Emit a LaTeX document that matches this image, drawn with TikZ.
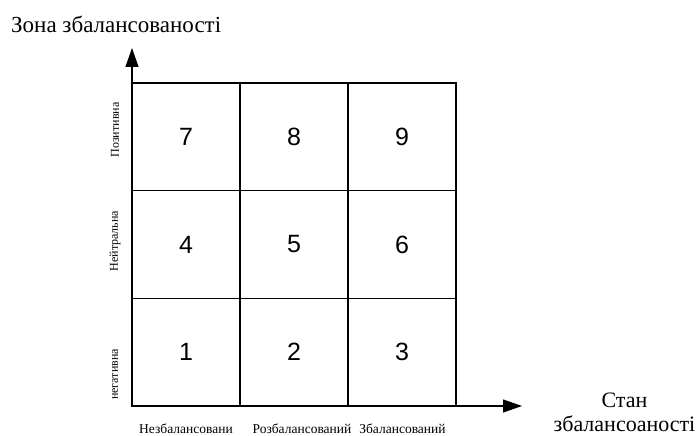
\documentclass[tikz,border=0pt]{standalone}
\usepackage{fontspec}
\setmainfont{Liberation Serif}
\newfontfamily\digitfont{Liberation Sans}
\usetikzlibrary{arrows.meta}
\tikzset{
  cell/.style={draw=black, line width=1.1pt, minimum width=108pt, minimum height=107.67pt, inner sep=0pt, font=\digitfont\fontsize{25}{25}\selectfont},
  axis/.style={line width=1.1pt, -{Triangle[length=19pt,width=13pt]}},
  ylab/.style={rotate=90, font=\fontsize{12}{12}\selectfont, inner sep=0pt},
  xlab/.style={font=\fontsize{13.5}{13.5}\selectfont, inner sep=0pt, anchor=base},
}
\begin{document}
\begin{tikzpicture}[x=1pt,y=-1pt]
\useasboundingbox (0,0) rectangle (699,436);
% cells
\node[cell] (c7) at (186,136.83) {7};
\node[cell] (c8) at (294,136.83) {8};
\node[cell] (c9) at (402,136.83) {9};
\node[cell] (c4) at (186,244.5) {4};
\node[cell] (c5) at (294,244.5) {5};
\node[cell] (c6) at (402,244.5) {6};
\node[cell] (c1) at (186,352.17) {1};
\node[cell] (c2) at (294,352.17) {2};
\node[cell] (c3) at (402,352.17) {3};
% axes
\coordinate (o) at (132,406);
\coordinate (ytip) at (132,48);
\coordinate (xtip) at (522,406);
\draw[axis] (o) -- (ytip);
\draw[axis] (o) -- (xtip);
% axis titles
\node[anchor=base west, inner sep=0pt, font=\fontsize{23}{23}\selectfont] (yt) at (11,33) {Зона збалансованості};
\node[align=center, inner sep=0pt, font=\fontsize{22}{24}\selectfont] (xt) at (624.5,412) {Стан\\збалансоаності};
% y labels
\node[ylab] (l7) at (115,130) {Позитивна};
\node[ylab] (l4) at (115,241) {Нейтральна};
\node[ylab] (l1) at (115,374.5) {негативна};
% x labels
\node[xlab] (b1) at (186,433) {Незбалансовани};
\node[xlab] (b2) at (302,433) {Розбалансований};
\node[xlab] (b3) at (402.5,433) {Збалансований};
\end{tikzpicture}
\end{document}
